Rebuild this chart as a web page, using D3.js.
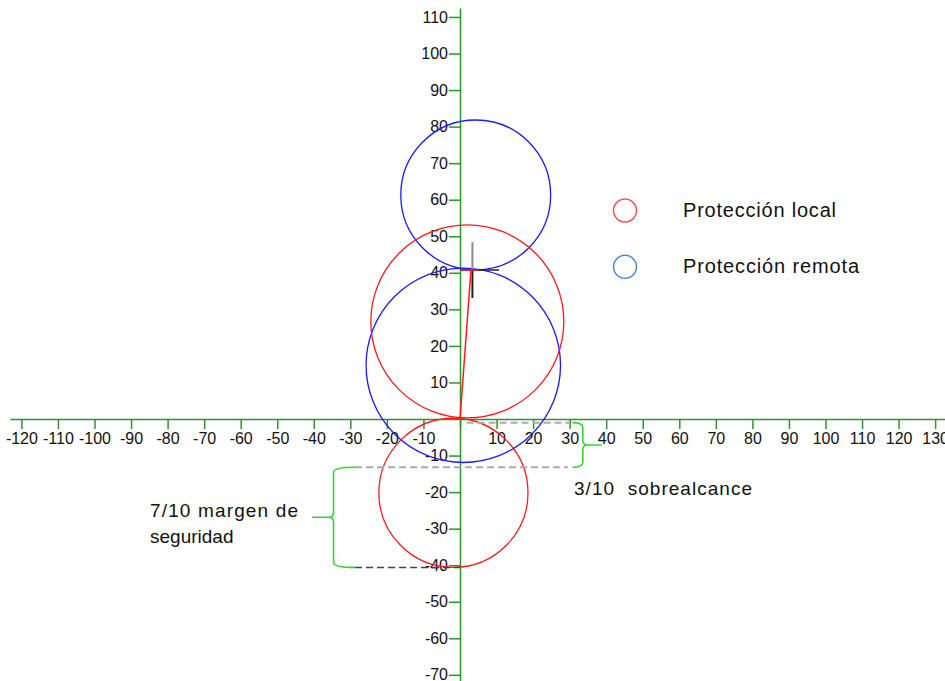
<!DOCTYPE html>
<html lang="es">
<head>
<meta charset="UTF-8"/>
<title>Protección local y remota</title>
<script src="https://cdn.jsdelivr.net/npm/d3@7"></script>
<style>
  html, body { margin: 0; padding: 0; background: #fff; }
  svg { display: block; font-family: "Liberation Sans", Arial, sans-serif; }
  .axis path, .axis line { stroke: #2a972a; stroke-width: 1.5; }
  .axis text { fill: #111; font-size: 16px; }
</style>
</head>
<body>
<script>
// tick values
var xTicks = d3.range(-120, 131, 10);
var yTicks = d3.range(-70, 111, 10);

// characteristic circles (impedance plane, ohm)
var circleCx = [4.3, 0.9, 2.0, -1.8];
var circleCy = [61.3, 14.7, 26.7, -20.2];
var circleR = [20.5, 26.6, 26.4, 20.4];
var circleKind = ["remota", "remota", "local", "local"];

// line impedance and the cross at its end
var lineX = [0, 3.0];
var lineY = [0, 40.8];
var crossX = [3.4, 3.4];
var crossY = [48.4, 33.1];
var crossHx = [0, 10.7];

// guide levels for the overreach / safety margin marks
var overTop = -1.0, overBottom = -13.2, marginBottom = -40.6;
var guideX0 = [1.8, -28.7, -28.7];
var guideX1 = [30.1, 29.5, 0];
var guideY = [overTop, overBottom, marginBottom];

var legendNames = ["Protección local", "Protección remota"];

var w = 945, h = 681;
var ox = 460, oy = 419, k = 3.655;   // origin in pixels, pixels per unit

var svg = d3.select("body").append("svg")
  .attr("width", w)
  .attr("height", h);

var xScale = d3.scaleLinear()
  .domain([(10 - ox) / k, (w - ox) / k])
  .range([10, w]);

var yScale = d3.scaleLinear()
  .domain([(oy - 8) / k, (oy - h) / k])
  .range([8, h]);

var fmt = function(d) { return d === 0 ? "" : d; };

var xAxis = d3.axisBottom(xScale)
  .tickValues(xTicks)
  .tickSize(10)
  .tickSizeOuter(0)
  .tickPadding(4)
  .tickFormat(fmt);

var yAxis = d3.axisLeft(yScale)
  .tickValues(yTicks.filter(function(d) { return d !== 0; }))
  .tickSize(11)
  .tickSizeOuter(0)
  .tickPadding(1)
  .tickFormat(fmt);

svg.append("g")
  .attr("class", "axis")
  .attr("transform", "translate(0," + yScale(0) + ")")
  .call(xAxis);

svg.append("g")
  .attr("class", "axis")
  .attr("transform", "translate(" + xScale(0) + ",0)")
  .call(yAxis);

svg.selectAll(".axis text").attr("font-family", null);

var colors = { local: "#ff1a1a", remota: "#1a1aff" };

svg.selectAll("circle.char")
  .data(circleCx)
  .enter()
  .append("circle")
  .attr("class", "char")
  .attr("cx", function(d) { return xScale(d); })
  .attr("cy", function(d, i) { return yScale(circleCy[i]); })
  .attr("r", function(d, i) { return xScale(d + circleR[i]) - xScale(d); })
  .attr("fill", "none")
  .attr("stroke", function(d, i) { return colors[circleKind[i]]; })
  .attr("stroke-width", 1.3);

// cross at the end of the line
svg.append("line")
  .attr("x1", xScale(crossX[0])).attr("y1", yScale(crossY[0]))
  .attr("x2", xScale(crossX[0])).attr("y2", yScale(lineY[1]))
  .attr("stroke", "#8a8a8a").attr("stroke-width", 2);
svg.append("line")
  .attr("x1", xScale(crossX[1])).attr("y1", yScale(lineY[1]))
  .attr("x2", xScale(crossX[1])).attr("y2", yScale(crossY[1]))
  .attr("stroke", "#222").attr("stroke-width", 2);
svg.append("line")
  .attr("x1", xScale(crossHx[0])).attr("y1", yScale(lineY[1]))
  .attr("x2", xScale(crossHx[1])).attr("y2", yScale(lineY[1]))
  .attr("stroke", "#222").attr("stroke-width", 1.5);
svg.append("line")
  .attr("x1", xScale(crossHx[0])).attr("y1", yScale(lineY[1]))
  .attr("x2", xScale(lineX[1] + 2)).attr("y2", yScale(lineY[1]))
  .attr("stroke", "#ff1a1a").attr("stroke-width", 1.5);

svg.append("line")
  .attr("x1", xScale(lineX[0])).attr("y1", yScale(lineY[0]))
  .attr("x2", xScale(lineX[1])).attr("y2", yScale(lineY[1]))
  .attr("stroke", "#ff1a1a").attr("stroke-width", 1.5);

// dashed guides
svg.selectAll("line.guide")
  .data(guideY)
  .enter()
  .append("line")
  .attr("class", "guide")
  .attr("x1", function(d, i) { return xScale(guideX0[i]); })
  .attr("x2", function(d, i) { return xScale(guideX1[i]); })
  .attr("y1", function(d) { return yScale(d); })
  .attr("y2", function(d) { return yScale(d); })
  .attr("stroke", function(d, i) { return i === 2 ? "#444" : "#aaa"; })
  .attr("stroke-width", function(d, i) { return i === 2 ? 1.5 : 2; })
  .attr("stroke-dasharray", "7,4");

// curly braces
function brace(xEnd, xBar, xTip, y0, y1) {
  var r = 5 * Math.sign(xTip - xBar);
  var ym = (y0 + y1) / 2;
  var p = d3.path();
  p.moveTo(xEnd, y0);
  p.quadraticCurveTo(xBar, y0, xBar, y0 + 5);
  p.lineTo(xBar, ym - 5);
  p.quadraticCurveTo(xBar, ym, xBar + r, ym);
  p.lineTo(xTip, ym);
  p.moveTo(xBar + r, ym);
  p.quadraticCurveTo(xBar, ym, xBar, ym + 5);
  p.lineTo(xBar, y1 - 5);
  p.quadraticCurveTo(xBar, y1, xEnd, y1);
  return p.toString();
}

svg.append("path")
  .attr("d", brace(xScale(30.8), xScale(33.6), xScale(38.8), yScale(overTop), yScale(overBottom)))
  .attr("fill", "none").attr("stroke", "#36d336").attr("stroke-width", 1.6);

svg.append("path")
  .attr("d", brace(xScale(-28.7), xScale(-34.6), xScale(-40.5), yScale(overBottom), yScale(marginBottom)))
  .attr("fill", "none").attr("stroke", "#36d336").attr("stroke-width", 1.6);

// annotation texts
svg.append("text")
  .attr("x", 574).attr("y", 495)
  .attr("font-size", 19).attr("fill", "#111")
  .attr("xml:space", "preserve")
  .attr("textLength", 178)
  .text("3/10  sobrealcance");

svg.append("text")
  .attr("x", 150).attr("y", 517)
  .attr("font-size", 19).attr("fill", "#111")
  .attr("textLength", 148)
  .text("7/10 margen de");

svg.append("text")
  .attr("x", 150).attr("y", 543)
  .attr("font-size", 19).attr("fill", "#111")
  .text("seguridad");

// legend
var legend = svg.selectAll("g.legend")
  .data(legendNames)
  .enter()
  .append("g")
  .attr("class", "legend")
  .attr("transform", function(d, i) { return "translate(625," + (210.5 + i * 56.3) + ")"; });

legend.append("circle")
  .attr("r", 11.5)
  .attr("fill", "none")
  .attr("stroke", function(d, i) { return i === 0 ? "#f55" : "#4a8ad4"; })
  .attr("stroke-width", 1.5);

legend.append("text")
  .attr("x", 58)
  .attr("y", 6)
  .attr("font-size", 20)
  .attr("fill", "#111")
  .attr("textLength", function(d, i) { return i === 0 ? 153 : 176; })
  .text(function(d) { return d; });
</script>
</body>
</html>
